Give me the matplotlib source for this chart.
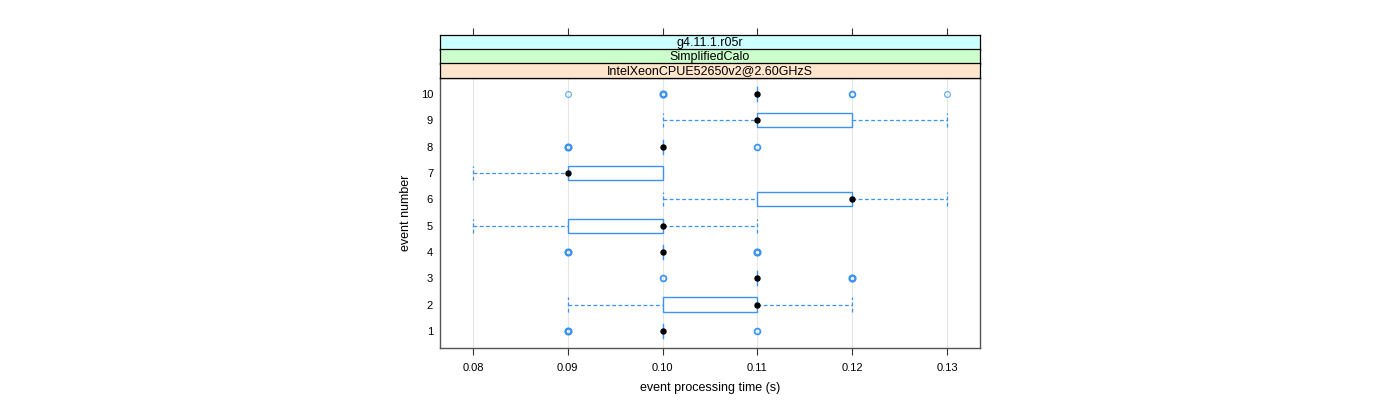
import matplotlib
matplotlib.use("Agg")
import matplotlib.pyplot as plt
from matplotlib.patches import Rectangle

plt.rcParams['font.family'] = ['Liberation Sans', 'DejaVu Sans']

events = [1, 2, 3, 4, 5, 6, 7, 8, 9, 10]
whisk_lo = [0.10, 0.09, 0.11, 0.10, 0.08, 0.10, 0.08, 0.10, 0.10, 0.11]
q1 = [0.10, 0.10, 0.11, 0.10, 0.09, 0.11, 0.09, 0.10, 0.11, 0.11]
median = [0.10, 0.11, 0.11, 0.10, 0.10, 0.12, 0.09, 0.10, 0.11, 0.11]
q3 = [0.10, 0.11, 0.11, 0.10, 0.10, 0.12, 0.10, 0.10, 0.12, 0.11]
whisk_hi = [0.10, 0.12, 0.11, 0.10, 0.11, 0.13, 0.10, 0.10, 0.13, 0.11]
# outliers: (value, multiplicity)
outliers = [
    [(0.09, 3), (0.11, 2)],
    [],
    [(0.10, 2), (0.12, 3)],
    [(0.09, 3), (0.11, 3)],
    [],
    [],
    [],
    [(0.09, 3), (0.11, 2)],
    [],
    [(0.09, 1), (0.10, 3), (0.12, 2), (0.13, 1)],
]
x_ticks = [0.08, 0.09, 0.10, 0.11, 0.12, 0.13]
x_tick_labels = ["0.08", "0.09", "0.10", "0.11", "0.12", "0.13"]
strip_labels = ["g4.11.1.r05r", "SimplifiedCalo", "IntelXeonCPUE52650v2@2.60GHzS"]
strip_colors = ["#ccffff", "#ccffcc", "#ffe5cc"]

blue = "#3a93f0"
W, H = 1400, 400
fig = plt.figure(figsize=(14, 4), dpi=100)

px_l, px_r, px_t, px_b = 440, 980, 78, 348
ax = fig.add_axes([px_l / W, 1 - px_b / H, (px_r - px_l) / W, (px_b - px_t) / H])
xlim = (0.07652, 0.13348)
ax.set_xlim(*xlim)
ax.set_ylim(0.35, 10.61)

for x in x_ticks:
    ax.axvline(x, color="#e6e6e6", lw=0.8, zorder=0)

hh = 0.27
for i, ev in enumerate(events):
    y = ev
    lo, a, m, b, hi = whisk_lo[i], q1[i], median[i], q3[i], whisk_hi[i]
    if b > a:
        ax.add_patch(Rectangle((a, y - hh), b - a, 2 * hh, fill=False,
                               edgecolor=blue, lw=1.0, zorder=2))
    else:
        ax.plot([a, a], [y - hh, y + hh], color=blue, lw=1.0, zorder=2)
    if lo < a:
        ax.plot([lo, a], [y, y], color=blue, lw=0.9, ls=(0, (3, 2)), zorder=2)
        ax.plot([lo, lo], [y - hh, y + hh], color=blue, lw=0.9, ls=(0, (3, 2)), zorder=2)
    if hi > b:
        ax.plot([b, hi], [y, y], color=blue, lw=0.9, ls=(0, (3, 2)), zorder=2)
        ax.plot([hi, hi], [y - hh, y + hh], color=blue, lw=0.9, ls=(0, (3, 2)), zorder=2)
    for v, n in outliers[i]:
        ax.plot([v], [y], marker="o", ms=4.2, mfc="none", mec=blue if n > 1 else "#5aa8f5",
                mew=0.8 + 0.45 * (n - 1), zorder=3)
    ax.plot([m], [y], marker="o", ms=3.6, color="black", zorder=4)

ax.set_yticks(events)
ax.set_yticklabels([str(e) for e in events], fontsize=8)
ax.tick_params(axis="y", length=0, pad=5)
ax.set_xticks(x_ticks)
ax.set_xticklabels(x_tick_labels, fontsize=8)
ax.tick_params(axis="x", length=5, width=0.8, color="#333333", pad=6, direction="out")
for s in ax.spines.values():
    s.set_color("#555555")
    s.set_linewidth(1.0)
ax.set_xlabel("event processing time (s)", fontsize=9, labelpad=6)
ax.set_ylabel("event number", fontsize=9, labelpad=6)

# strips
strip_tops = [35, 49, 63]
sh = 14.5
for lab, col, top in zip(strip_labels, strip_colors, strip_tops):
    sax = fig.add_axes([px_l / W, 1 - (top + sh) / H, (px_r - px_l) / W, sh / H])
    sax.set_xlim(*xlim)
    sax.set_ylim(0, 1)
    sax.set_facecolor(col)
    sax.set_xticks([])
    sax.set_yticks([])
    for s in sax.spines.values():
        s.set_color("black")
        s.set_linewidth(0.9)
    sax.text(0.5, 0.45, lab, ha="center", va="center", fontsize=9, transform=sax.transAxes)
    if top == strip_tops[0]:
        sax.set_xticks(x_ticks)
        sax.xaxis.set_ticks_position("top")
        sax.tick_params(axis="x", length=5, width=0.8, color="#333333", labeltop=False, labelbottom=False)

fig.savefig("out.png", dpi=100)
